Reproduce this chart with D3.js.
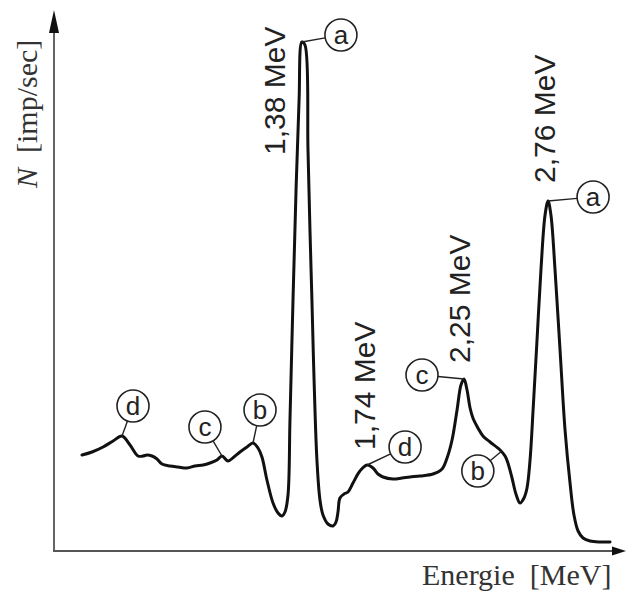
<!DOCTYPE html>
<html>
<head>
<meta charset="utf-8">
<script src="https://cdn.jsdelivr.net/npm/d3@7"></script>
<style>
  html, body { margin: 0; padding: 0; background: #fff; }
  svg { display: block; }
</style>
</head>
<body>
<svg id="chart" width="626" height="591"></svg>
<script>
// spectrum trace, energy in MeV, count rate in relative units
const energy = [
  0.148, 0.204, 0.266, 0.322, 0.372, 0.417, 0.462, 0.490, 0.512, 0.540,
  0.568, 0.596, 0.641, 0.686, 0.736, 0.781, 0.826, 0.865, 0.904, 0.932,
  0.966, 0.999, 1.033, 1.072, 1.106, 1.134, 1.156, 1.184, 1.218, 1.246,
  1.268, 1.285, 1.302, 1.313, 1.330, 1.347, 1.364, 1.380, 1.397, 1.414,
  1.425, 1.436, 1.448, 1.464, 1.481, 1.498, 1.526, 1.554, 1.571, 1.582,
  1.593, 1.616, 1.638, 1.666, 1.705, 1.745, 1.778, 1.806, 1.834, 1.890,
  1.941, 1.985, 2.041, 2.114, 2.165, 2.193, 2.221, 2.249, 2.271, 2.288,
  2.305, 2.322, 2.338, 2.366, 2.394, 2.434, 2.490, 2.518, 2.534, 2.557,
  2.579, 2.602, 2.624, 2.641, 2.658, 2.675, 2.697, 2.719, 2.742, 2.759,
  2.775, 2.798, 2.826, 2.854, 2.882, 2.904, 2.927, 2.955, 2.994, 3.050,
  3.106
];
const counts = [
  19.2, 19.8, 20.8, 22.0, 23.0, 21.2, 19.0, 19.0, 19.2, 19.0,
  18.4, 17.4, 17.0, 16.8, 16.6, 17.0, 17.2, 17.6, 18.2, 19.0,
  18.0, 18.8, 19.8, 20.8, 21.6, 20.6, 18.8, 14.2, 9.6, 7.6,
  7.0, 7.8, 11.2, 26.2, 50.2, 72.2, 90.2, 101.8, 101.2, 80.2,
  64.2, 50.2, 34.2, 18.2, 10.2, 7.2, 5.4, 5.0, 5.8, 7.8,
  10.6, 11.4, 11.8, 13.6, 16.0, 17.2, 16.6, 15.4, 14.8, 14.4,
  14.6, 14.8, 15.0, 15.4, 16.4, 18.6, 22.2, 28.2, 33.2, 34.4,
  32.2, 28.6, 26.6, 24.6, 23.0, 21.8, 20.2, 19.0, 17.6, 14.6,
  11.4, 9.6, 10.6, 12.6, 18.2, 28.2, 42.2, 56.2, 67.2, 70.0,
  67.2, 56.2, 40.2, 24.2, 13.6, 7.2, 4.0, 2.6, 2.0, 1.8,
  1.8
];

// peak labels
const peakNames = ["1,38 MeV", "1,74 MeV", "2,25 MeV", "2,76 MeV"];

// circled markers: letter and the point on the trace they point at
const markLetters = ["d", "c", "b", "a", "d", "c", "b", "a"];
const markEnergy  = [0.372, 0.932, 1.106, 1.380, 1.745, 2.288, 2.500, 2.759];
const markCounts  = [23.0, 19.0, 21.6, 101.8, 17.2, 34.4, 20.0, 70.0];

const data = energy.map((e, i) => ({ e: e, n: counts[i] }));

const svg = d3.select("#chart");
const x = d3.scaleLinear().domain([0, 3.2]).range([55.6, 626.8]);
const y = d3.scaleLinear().domain([0, 100]).range([551, 51]);

const axisX = 54, axisY = 551;

// axes with arrows
svg.append("line")
  .attr("x1", axisX).attr("y1", axisY + 1)
  .attr("x2", axisX).attr("y2", 28)
  .attr("stroke", "#555").attr("stroke-width", 1.8);
svg.append("path")
  .attr("d", `M${axisX},10 L${axisX - 5},33 L${axisX + 5},33 Z`)
  .attr("fill", "#111");

svg.append("line")
  .attr("x1", axisX - 1).attr("y1", axisY)
  .attr("x2", 614).attr("y2", axisY)
  .attr("stroke", "#555").attr("stroke-width", 1.8);
svg.append("path")
  .attr("d", `M626,${axisY} L612,${axisY - 4.5} L612,${axisY + 4.5} Z`)
  .attr("fill", "#111");

// the trace
const line = d3.line()
  .x(d => x(d.e))
  .y(d => y(d.n))
  .curve(d3.curveCatmullRom.alpha(0.5));

svg.append("path")
  .datum(data)
  .attr("d", line)
  .attr("fill", "none")
  .attr("stroke", "#111")
  .attr("stroke-width", 3)
  .attr("stroke-linejoin", "round")
  .attr("stroke-linecap", "round");

// where each circle sits relative to its point (px)
const markOffset = [[11, -30], [-17, -29], [7, -33], [39, -7], [38, -18], [-42, -4], [-24, 20], [45, -4]];
const r = 16;

markLetters.forEach((ch, i) => {
  const px = x(markEnergy[i]), py = y(markCounts[i]);
  const cx = px + markOffset[i][0], cy = py + markOffset[i][1];
  const len = Math.hypot(cx - px, cy - py);
  const ex = cx - (cx - px) / len * r, ey = cy - (cy - py) / len * r;
  svg.append("line")
    .attr("x1", px).attr("y1", py).attr("x2", ex).attr("y2", ey)
    .attr("stroke", "#222").attr("stroke-width", 1.4);
  svg.append("circle")
    .attr("cx", cx).attr("cy", cy).attr("r", r)
    .attr("fill", "#fff").attr("stroke", "#222").attr("stroke-width", 1.6);
  svg.append("text")
    .attr("x", cx).attr("y", cy)
    .attr("dy", "0.36em")
    .attr("text-anchor", "middle")
    .style("font-family", "'Liberation Sans', Arial, sans-serif")
    .style("font-size", "26px")
    .attr("fill", "#222")
    .text(ch);
});

// rotated energy labels, placed above each peak
const peakAt = [[285, 155], [375, 450], [470, 363], [555, 183]];
peakNames.forEach((t, i) => {
  svg.append("text")
    .attr("transform", `translate(${peakAt[i][0]},${peakAt[i][1]}) rotate(-90)`)
    .style("font-family", "'Liberation Sans', Arial, sans-serif")
    .style("font-size", "30px")
    .attr("fill", "#222")
    .text(t);
});

// axis titles
const yTitle = svg.append("text")
  .attr("transform", "translate(37,188) rotate(-90)")
  .style("font-family", "'Liberation Serif', 'Times New Roman', serif")
  .style("font-size", "30px")
  .attr("fill", "#333")
  .attr("xml:space", "preserve");
yTitle.append("tspan").style("font-style", "italic").text("N");
yTitle.append("tspan").text("  [imp/sec]");

svg.append("text")
  .attr("x", 422).attr("y", 585)
  .style("font-family", "'Liberation Serif', 'Times New Roman', serif")
  .style("font-size", "30px")
  .attr("fill", "#333")
  .attr("xml:space", "preserve")
  .text("Energie  [MeV]");
</script>
</body>
</html>
